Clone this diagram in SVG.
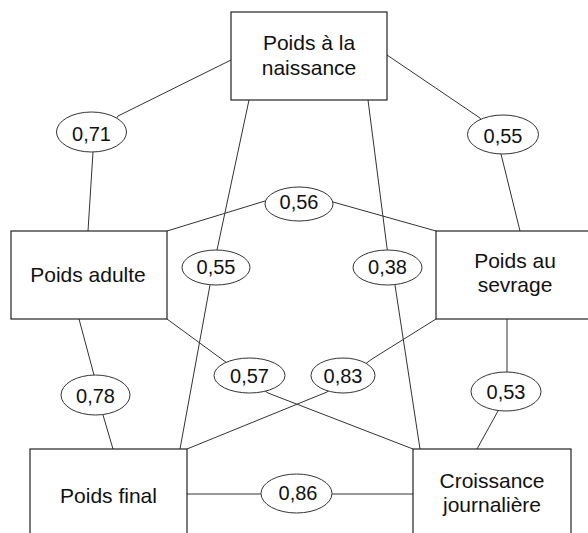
<svg xmlns="http://www.w3.org/2000/svg" width="588" height="533" viewBox="0 0 588 533">
<style>
.box{fill:#fff;stroke:#222;stroke-width:1.2}
.lbl{fill:#fff;stroke:#333;stroke-width:1}
.edge{fill:none;stroke:#333;stroke-width:1}
text{font-family:"Liberation Sans",Arial,sans-serif;font-size:20px;fill:#111;text-anchor:middle}
.bt{font-size:21px}
</style>
<rect width="588" height="533" fill="#fff"/>
<g id="connectors">
<path class="edge" d="M231,60 L118,116 L93,152 L88,231"/>
<path class="edge" d="M387,55 L480,118 L501,154 L520,231"/>
<path class="edge" d="M249,100 L217,250 L210,285 L180,449"/>
<path class="edge" d="M368,100 L387,248 L395,285 L420,449"/>
<path class="edge" d="M167,231 L265,201 L333,202 L436,231"/>
<path class="edge" d="M167,319 L227,363 L268,393 L413,449"/>
<path class="edge" d="M436,319 L372,359 L327,392 L187,449"/>
<path class="edge" d="M79,319 L94,375 L103,415 L113,449"/>
<path class="edge" d="M507,319 L507,372 L498,411 L477,449"/>
<path class="edge" d="M187,494 L413,494"/>
</g>
<g id="naissance"><rect class="box" x="231" y="12" width="156" height="88"/><text class="bt" x="309" y="50">Poids à la</text><text class="bt" x="309" y="75">naissance</text></g>
<g id="adulte"><rect class="box" x="11" y="231" width="156" height="88"/><text class="bt" x="88" y="282">Poids adulte</text></g>
<g id="sevrage"><rect class="box" x="436" y="231" width="158" height="88"/><text class="bt" x="515" y="268">Poids au</text><text class="bt" x="515" y="292">sevrage</text></g>
<g id="final"><rect class="box" x="30" y="449" width="157" height="95"/><text class="bt" x="108.5" y="503">Poids final</text></g>
<g id="croissance"><rect class="box" x="413" y="449" width="158" height="95"/><text class="bt" x="492" y="488">Croissance</text><text class="bt" x="492" y="512">journalière</text></g>
<g id="labels">
<g id="l071"><ellipse class="lbl" cx="91.5" cy="132" rx="35" ry="20"/><text x="91.5" y="141">0,71</text></g>
<g id="l055r"><ellipse class="lbl" cx="503" cy="134.5" rx="35.5" ry="19.5"/><text x="503" y="143">0,55</text></g>
<g id="l056"><ellipse class="lbl" cx="299" cy="204" rx="34" ry="17"/><text x="299" y="209">0,56</text></g>
<g id="l055l"><ellipse class="lbl" cx="216" cy="267.5" rx="34" ry="17.5"/><text x="216" y="274">0,55</text></g>
<g id="l038"><ellipse class="lbl" cx="387.5" cy="267.5" rx="34.5" ry="17.5"/><text x="387.5" y="274">0,38</text></g>
<g id="l078"><ellipse class="lbl" cx="95.5" cy="395" rx="34.5" ry="20"/><text x="95.5" y="403">0,78</text></g>
<g id="l057"><ellipse class="lbl" cx="249.5" cy="375.5" rx="35.5" ry="17.5"/><text x="249.5" y="382.5">0,57</text></g>
<g id="l083"><ellipse class="lbl" cx="343" cy="375.5" rx="32" ry="17.5"/><text x="343" y="382.5">0,83</text></g>
<g id="l053"><ellipse class="lbl" cx="506" cy="391.5" rx="35" ry="19.5"/><text x="506" y="399">0,53</text></g>
<g id="l086"><ellipse class="lbl" cx="296.5" cy="493.5" rx="35.5" ry="19.5"/><text x="298" y="500">0,86</text></g>
</g>
</svg>
